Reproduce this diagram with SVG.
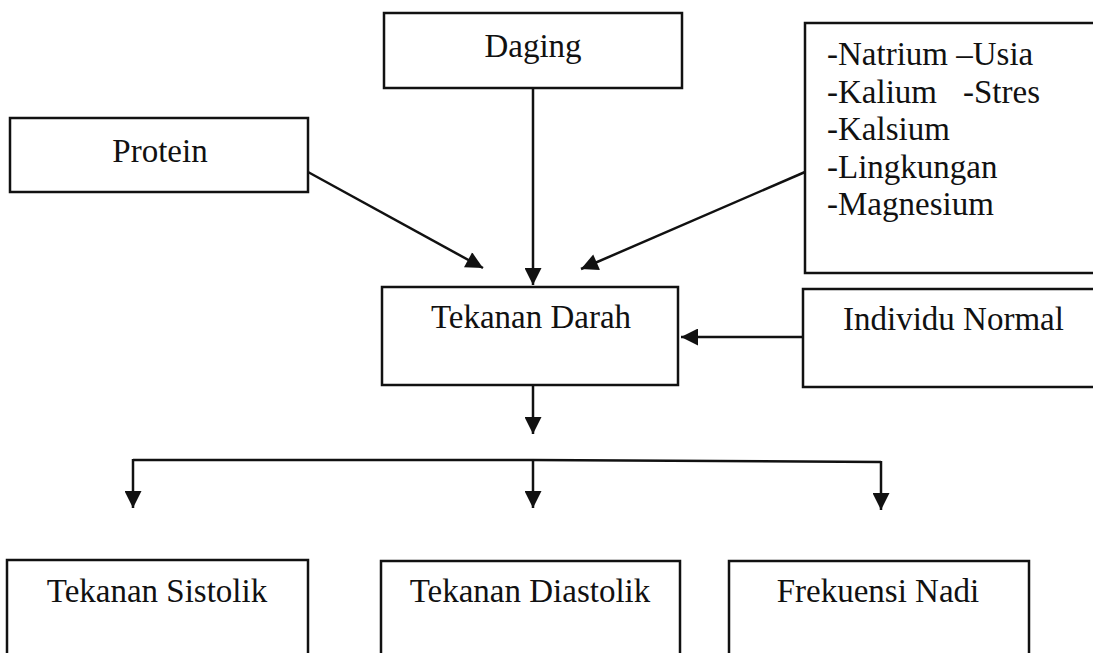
<svg xmlns="http://www.w3.org/2000/svg" width="1093" height="653" viewBox="0 0 1093 653">
<style>
.box{fill:#fff;stroke:#111;stroke-width:2.5}
.t{font-family:"Liberation Serif","Times New Roman",serif;font-size:33px;fill:#111}
.c{text-anchor:middle}
.ln{stroke:#111;stroke-width:2.5;fill:none}
.arr{marker-end:url(#ah)}
</style>
<defs>
<marker id="ah" viewBox="0 0 10 10" refX="10" refY="5" markerWidth="19" markerHeight="17" markerUnits="userSpaceOnUse" orient="auto">
<path d="M0,0 L10,5 L0,10 z" fill="#111"/>
</marker>
</defs>
<rect width="1093" height="653" fill="#fff"/>
<g id="connectors">
<line class="ln arr" x1="308" y1="172" x2="483" y2="268"/>
<line class="ln arr" x1="533" y1="88" x2="533" y2="285"/>
<line class="ln arr" x1="805" y1="172" x2="581" y2="269"/>
<line class="ln arr" x1="803" y1="337" x2="681" y2="337"/>
<line class="ln arr" x1="533" y1="385" x2="533" y2="434"/>
<polyline class="ln" points="133,460 533,460 881,462"/>
<line class="ln arr" x1="133" y1="459" x2="133" y2="508"/>
<line class="ln arr" x1="533" y1="460" x2="533" y2="508"/>
<line class="ln arr" x1="881" y1="461" x2="881" y2="510"/>
</g>
<g id="daging">
<rect class="box" x="384" y="13" width="298" height="75"/>
<text class="t c" x="533" y="57">Daging</text>
</g>
<g id="protein">
<rect class="box" x="10" y="118" width="298" height="74"/>
<text class="t c" x="160" y="162">Protein</text>
</g>
<g id="faktor">
<rect class="box" x="805" y="23" width="300" height="250"/>
<text class="t" x="827" y="65">-Natrium –Usia</text>
<text class="t" x="827" y="103">-Kalium</text>
<text class="t" x="963" y="103">-Stres</text>
<text class="t" x="827" y="140">-Kalsium</text>
<text class="t" x="827" y="178">-Lingkungan</text>
<text class="t" x="827" y="215">-Magnesium</text>
</g>
<g id="tekanan-darah">
<rect class="box" x="382" y="287" width="296" height="98"/>
<text class="t c" x="531" y="328">Tekanan Darah</text>
</g>
<g id="individu-normal">
<rect class="box" x="803" y="289" width="300" height="98"/>
<text class="t" x="843" y="330">Individu Normal</text>
</g>
<g id="sistolik">
<rect class="box" x="7" y="560" width="301" height="120"/>
<text class="t c" x="157" y="602">Tekanan Sistolik</text>
</g>
<g id="diastolik">
<rect class="box" x="381" y="561" width="299" height="120"/>
<text class="t c" x="530" y="602">Tekanan Diastolik</text>
</g>
<g id="nadi">
<rect class="box" x="729" y="561" width="300" height="120"/>
<text class="t c" x="878" y="602">Frekuensi Nadi</text>
</g>
</svg>
